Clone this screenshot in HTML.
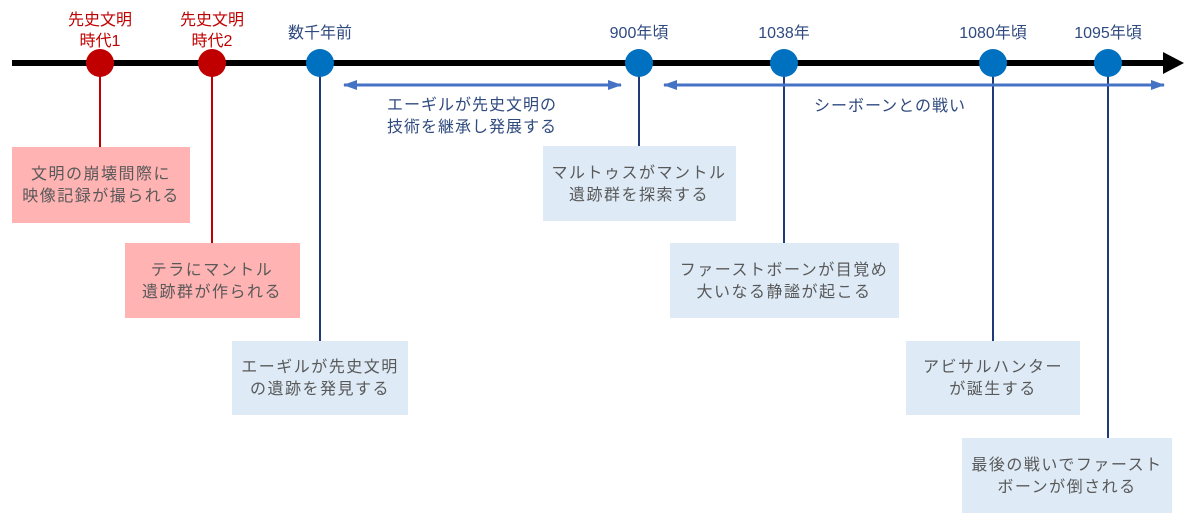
<!DOCTYPE html>
<html><head><meta charset="utf-8"><style>
body{margin:0;background:#fff;}
svg text{font-family:"Liberation Sans","Noto Sans CJK JP",sans-serif;}
.b{font-size:16px;fill:#595959;text-anchor:middle;letter-spacing:1.5px;}
.r{font-size:16px;fill:#C00000;text-anchor:middle;}
.n{font-size:16px;fill:#2F4A7F;text-anchor:middle;}
.m{font-size:16px;fill:#2F4A7F;text-anchor:middle;letter-spacing:1px;}
</style></head><body>
<svg width="1200" height="525" xmlns="http://www.w3.org/2000/svg">
<defs>
<marker id="a" markerWidth="14" markerHeight="10" refX="13" refY="5" orient="auto-start-reverse" markerUnits="userSpaceOnUse"><path d="M0,0L14,5L0,10z" fill="#4472C4"/></marker>
</defs>
<rect x="12" y="147" width="178" height="76" fill="#FFB3B3"/>
<rect x="125" y="243" width="175" height="75" fill="#FFB3B3"/>
<rect x="232" y="341" width="176" height="74" fill="#DEEBF7"/>
<rect x="543" y="146" width="193" height="75" fill="#DEEBF7"/>
<rect x="670" y="243" width="229" height="75" fill="#DEEBF7"/>
<rect x="906" y="341" width="174" height="74" fill="#DEEBF7"/>
<rect x="962" y="438" width="210" height="75" fill="#DEEBF7"/>
<g stroke-width="2">
<line x1="100" y1="63" x2="100" y2="147" stroke="#C00000"/>
<line x1="212" y1="63" x2="212" y2="243" stroke="#C00000"/>
<line x1="320" y1="63" x2="320" y2="341" stroke="#1F3A78"/>
<line x1="639" y1="63" x2="639" y2="146" stroke="#1F3A78"/>
<line x1="784" y1="63" x2="784" y2="243" stroke="#1F3A78"/>
<line x1="993" y1="63" x2="993" y2="341" stroke="#1F3A78"/>
<line x1="1108" y1="63" x2="1108" y2="438" stroke="#1F3A78"/>
</g>
<line x1="12" y1="63" x2="1165" y2="63" stroke="#000" stroke-width="6"/>
<path d="M1163,52L1184,63L1163,74z" fill="#000"/>
<circle cx="100" cy="63" r="14" fill="#C00000"/>
<circle cx="212" cy="63" r="14" fill="#C00000"/>
<g fill="#0070C0">
<circle cx="320" cy="63" r="14"/><circle cx="639" cy="63" r="14"/><circle cx="784" cy="63" r="14"/>
<circle cx="993" cy="63" r="14"/><circle cx="1108" cy="63" r="14"/>
</g>
<line x1="344" y1="85" x2="621" y2="85" stroke="#4472C4" stroke-width="3" marker-start="url(#a)" marker-end="url(#a)"/>
<line x1="664" y1="85" x2="1164" y2="85" stroke="#4472C4" stroke-width="3" marker-start="url(#a)" marker-end="url(#a)"/>
<text class="r" x="100" y="25">先史文明</text><text class="r" x="100" y="46">時代1</text>
<text class="r" x="212" y="25">先史文明</text><text class="r" x="212" y="46">時代2</text>
<text class="n" x="320" y="38">数千年前</text>
<text class="n" x="639" y="38">900年頃</text>
<text class="n" x="784" y="38">1038年</text>
<text class="n" x="993" y="38">1080年頃</text>
<text class="n" x="1108" y="38">1095年頃</text>
<text class="m" x="472" y="110">エーギルが先史文明の</text>
<text class="m" x="472" y="132">技術を継承し発展する</text>
<text class="m" x="890" y="111">シーボーンとの戦い</text>
<text class="b" x="101" y="179">文明の崩壊間際に</text><text class="b" x="101" y="201">映像記録が撮られる</text>
<text class="b" x="212" y="275">テラにマントル</text><text class="b" x="212" y="297">遺跡群が作られる</text>
<text class="b" x="320" y="372">エーギルが先史文明</text><text class="b" x="320" y="394">の遺跡を発見する</text>
<text class="b" x="639" y="178">マルトゥスがマントル</text><text class="b" x="639" y="200">遺跡群を探索する</text>
<text class="b" x="784" y="275">ファーストボーンが目覚め</text><text class="b" x="784" y="297">大いなる静謐が起こる</text>
<text class="b" x="993" y="372">アビサルハンター</text><text class="b" x="993" y="394">が誕生する</text>
<text class="b" x="1067" y="470">最後の戦いでファースト</text><text class="b" x="1067" y="492">ボーンが倒される</text>
</svg>
</body></html>
